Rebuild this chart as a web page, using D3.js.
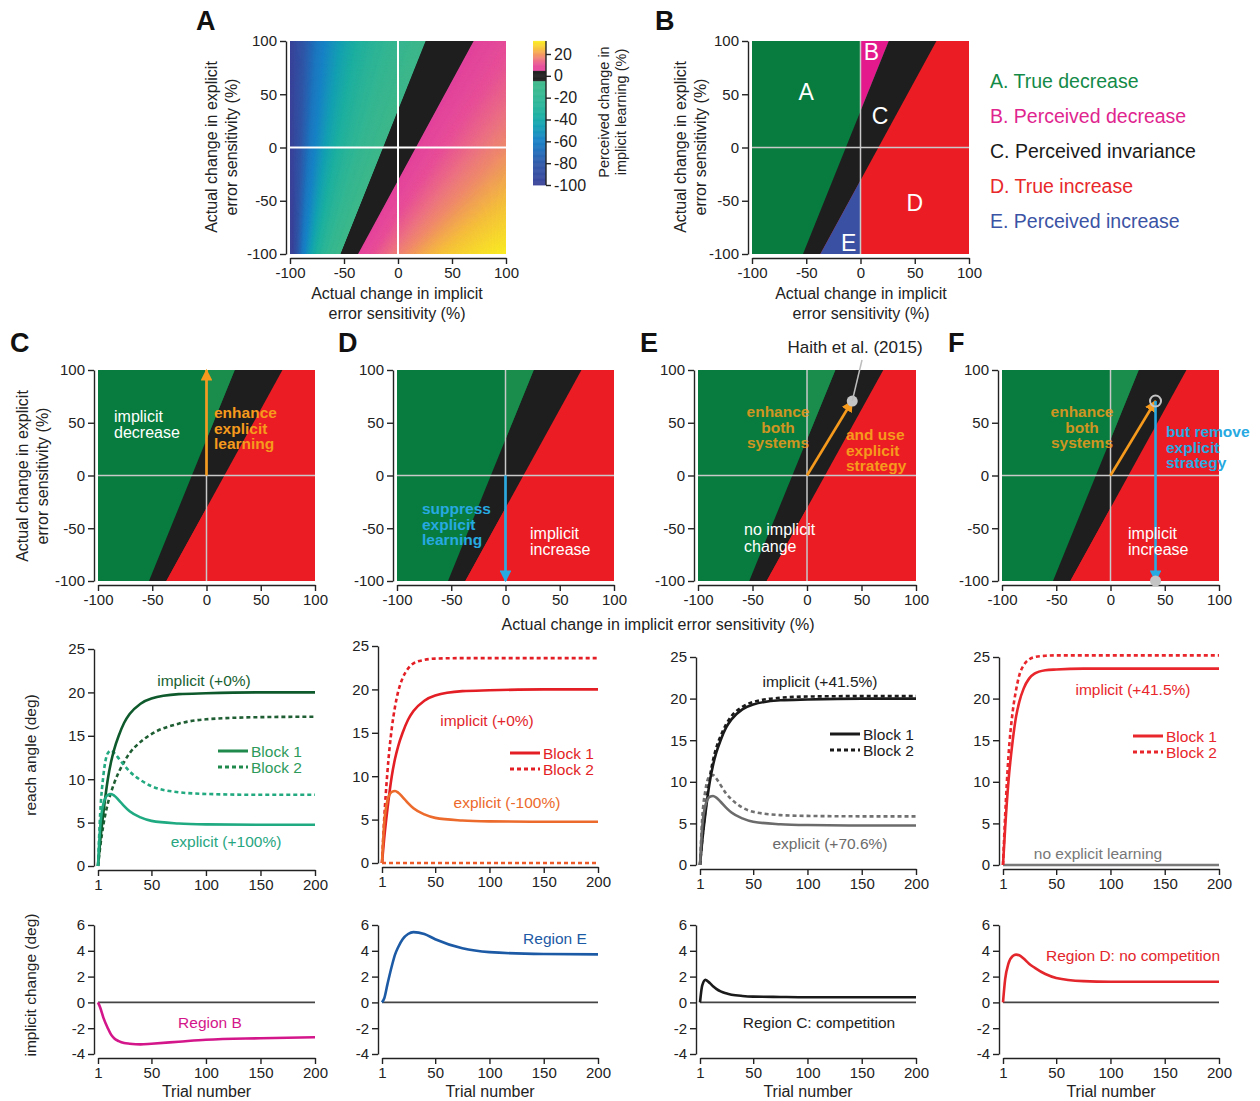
<!DOCTYPE html>
<html>
<head>
<meta charset="utf-8">
<script src="https://cdn.jsdelivr.net/npm/d3@7"></script>
<style>
  body { margin: 0; background: #fff; }
  text { font-family: "Liberation Sans", Arial, sans-serif; }
</style>
</head>
<body>
<svg id="fig" width="1260" height="1101"></svg>
<script>
// ---- data ----
var sensTicks = [-100, -50, 0, 50, 100];
// edges of the black "perceived invariance" band, [implicit %, explicit %]
var bandLeft = [[-53, -100], [26, 100]];
var bandRight = [[-37, -100], [70, 100]];
// panel A: perceived change along the top and right border (contours are rays from the pivot)
var fieldPivot = [-96, -210];
var fieldTopX = [-100, -75, -50, -25, 0, 26, 50, 70, 100];
var fieldTopV = [-100, -64, -43, -26, -14, -5, 0, 5, 9];
var fieldRightY = [100, 50, 0, -50, -100];
var fieldRightV = [9, 13, 18, 25, 32];
var cbarTicks = [20, 0, -20, -40, -60, -80, -100];
var cbarStops = [-100, -80, -68, -58, -45, -35, -25, -15, -5, 5, 10, 15, 20, 25, 32];
var cbarColors = ['#3a4298', '#2e58a8', '#1f6fbb', '#1783c6', '#13a2b2', '#1cb0a0', '#2ab598',
                  '#36b890', '#3eb98a', '#e5429c', '#e84f98', '#ee7580', '#f39a5c', '#f8c13a', '#fcee21'];
var legendLabels = ['A. True decrease', 'B. Perceived decrease', 'C. Perceived invariance',
                    'D. True increase', 'E. Perceived increase'];
var haithPoint = [41.5, 70.6];

var trials = [1, 3, 6, 10, 13, 16, 20, 25, 30, 40, 50, 75, 100, 150, 200];
var trialTicks = [1, 50, 100, 150, 200];
var reachTicks = [0, 5, 10, 15, 20, 25];
var changeTicks = [-4, -2, 0, 2, 4, 6];

var implicitBase   = [0, 2.8, 6.2, 10, 12, 13.5, 15, 16.5, 17.5, 18.7, 19.3, 19.8, 19.9, 20, 20];
var explicitBase   = [0, 4.5, 7.2, 8.2, 8.3, 8.1, 7.6, 6.9, 6.3, 5.6, 5.2, 4.9, 4.8, 4.75, 4.75];
var cImplicit2     = [0, 2.2, 4.8, 7.2, 8.5, 9.6, 10.8, 12, 13, 14.3, 15.2, 16.4, 16.9, 17.15, 17.2];
var cExplicit2     = [0, 6, 10.5, 13, 13.3, 13, 12.4, 11.6, 10.9, 9.9, 9.2, 8.5, 8.3, 8.2, 8.2];
var dImplicit2     = [0, 5, 10.5, 15.5, 18, 19.8, 21.3, 22.4, 23, 23.4, 23.55, 23.6, 23.6, 23.6, 23.6];
var noExplicit     = [0, 0, 0, 0, 0, 0, 0, 0, 0, 0, 0, 0, 0, 0, 0];
var eImplicit2     = [0, 3, 6.6, 10.5, 12.6, 14.1, 15.5, 16.9, 17.9, 19, 19.6, 20.1, 20.25, 20.3, 20.3];
var eExplicit2     = [0, 5.5, 9, 10.7, 10.8, 10.4, 9.6, 8.6, 7.9, 6.9, 6.4, 6.0, 5.9, 5.85, 5.85];
var fImplicit1     = [0, 4.5, 10, 15, 17.8, 19.6, 21.2, 22.4, 23, 23.4, 23.5, 23.6, 23.6, 23.6, 23.6];
var fImplicit2     = [0, 6, 13, 18.5, 21, 22.8, 24, 24.7, 25, 25.15, 25.2, 25.2, 25.2, 25.2, 25.2];

var regionB = [0, -0.4, -1.2, -2.0, -2.5, -2.8, -3.0, -3.15, -3.2, -3.25, -3.2, -3.05, -2.9, -2.78, -2.7];
var regionE = [0, 0.3, 1.4, 2.8, 3.7, 4.3, 4.9, 5.3, 5.45, 5.3, 4.9, 4.2, 3.9, 3.75, 3.72];
var regionC = [0, 1.3, 1.75, 1.5, 1.25, 1.05, 0.85, 0.7, 0.6, 0.5, 0.45, 0.42, 0.4, 0.4, 0.4];
var regionD = [0, 1.8, 3.0, 3.6, 3.7, 3.65, 3.4, 3.0, 2.7, 2.2, 1.9, 1.65, 1.6, 1.6, 1.6];

// ---- drawing ----
var svg = d3.select('#fig');
var GREEN = '#077c3e', GREEN2 = '#1a8c4b', RED = '#ec1c24', BLACK = '#1e1e1e';
var ORANGE = '#f59a1c', BLUE = '#27a9e1';

var defs = svg.append('defs');
function marker(id, color) {
  defs.append('marker').attr('id', id).attr('viewBox', '0 0 10 10')
    .attr('refX', 9).attr('refY', 5).attr('markerWidth', 4.5).attr('markerHeight', 4.5)
    .attr('orient', 'auto-start-reverse')
    .append('path').attr('d', 'M0,0L10,5L0,10z').attr('fill', color);
}
marker('arrOrange', ORANGE);
marker('arrBlue', BLUE);

function fmt(d) { return String(d); }

function styleAxis(a) {
  a.selectAll('path, line').attr('stroke', '#222').attr('stroke-width', 1.4);
  a.selectAll('text').attr('font-size', 15).attr('fill', '#222')
    .attr('font-family', '"Liberation Sans", Arial, sans-serif');
}

function letter(t, x, y) {
  svg.append('text').attr('x', x).attr('y', y).attr('font-size', 27)
    .attr('font-weight', 'bold').attr('fill', '#111').text(t);
}

function multiText(g, lines, x, y, dy, opt) {
  var t = g.append('text').attr('x', x).attr('y', y)
    .attr('font-size', opt.size || 15.5).attr('fill', opt.color)
    .attr('font-weight', opt.bold ? 'bold' : 'normal')
    .attr('text-anchor', opt.anchor || 'start');
  if (opt.opacity) t.attr('fill-opacity', opt.opacity);
  lines.forEach(function (l, i) {
    t.append('tspan').attr('x', x).attr('dy', i === 0 ? 0 : dy).text(l);
  });
  return t;
}

function yAtX(line, xv) {
  var p = line[0], q = line[1];
  return p[1] + (q[1] - p[1]) * (xv - p[0]) / (q[0] - p[0]);
}

var clipN = 0;
function heatPanel(x0, x1, yTop, yBot) {
  var x = d3.scaleLinear([-100, 100], [x0, x1]);
  var y = d3.scaleLinear([-100, 100], [yBot, yTop]);
  var g = svg.append('g');
  var id = 'clip' + (clipN++);
  defs.append('clipPath').attr('id', id).append('rect')
    .attr('x', x0).attr('y', yTop).attr('width', x1 - x0).attr('height', yBot - yTop);
  var body = g.append('g').attr('clip-path', 'url(#' + id + ')');
  var ax = g.append('g').attr('transform', 'translate(0,' + (yBot + 4) + ')')
    .call(d3.axisBottom(x).tickValues(sensTicks).tickFormat(fmt).tickSize(6).tickSizeOuter(0));
  var ay = g.append('g').attr('transform', 'translate(' + (x0 - 4) + ',0)')
    .call(d3.axisLeft(y).tickValues(sensTicks).tickFormat(fmt).tickSize(6).tickSizeOuter(0));
  styleAxis(ax); styleAxis(ay);
  return { x: x, y: y, g: g, body: body };
}

function poly(p, pts, fill) {
  var path = d3.line().x(function (d) { return p.x(d[0]); }).y(function (d) { return p.y(d[1]); });
  p.body.append('path').attr('d', path(pts) + 'Z').attr('fill', fill);
}

function regionPanel(p, bColor, eColor) {
  p.body.append('rect').attr('x', p.x(-100)).attr('y', p.y(100))
    .attr('width', p.x(100) - p.x(-100)).attr('height', p.y(-100) - p.y(100)).attr('fill', GREEN);
  poly(p, [bandLeft[0], bandLeft[1], [100, 100], [100, -100]], BLACK);
  poly(p, [bandRight[0], bandRight[1], [100, 100], [100, -100]], RED);
  poly(p, [[0, yAtX(bandLeft, 0)], [0, 100], [bandLeft[1][0], 100]], bColor);
  poly(p, [[bandRight[0][0], -100], [0, -100], [0, yAtX(bandRight, 0)]], eColor);
}

function crossHair(p, color, w) {
  p.body.append('line').attr('x1', p.x(0)).attr('x2', p.x(0)).attr('y1', p.y(-100)).attr('y2', p.y(100))
    .attr('stroke', color).attr('stroke-width', w);
  p.body.append('line').attr('y1', p.y(0)).attr('y2', p.y(0)).attr('x1', p.x(-100)).attr('x2', p.x(100))
    .attr('stroke', color).attr('stroke-width', w);
}

function sensTitles(cx, yBase, xLeft, cy) {
  if (yBase) multiText(svg, ['Actual change in implicit', 'error sensitivity (%)'], cx, yBase, 20,
    { size: 16, color: '#222', anchor: 'middle' });
  if (xLeft) {
    var t = multiText(svg, ['Actual change in explicit', 'error sensitivity (%)'], 0, 0, 20,
      { size: 16, color: '#222', anchor: 'middle' });
    t.attr('transform', 'translate(' + xLeft + ',' + cy + ') rotate(-90)');
  }
}

// ---------- Panel A ----------
var colorScale = d3.scaleLinear(cbarStops, cbarColors).clamp(true);
function fieldColor(v) { return Math.abs(v) < 5 ? BLACK : colorScale(v); }
var pA = heatPanel(290, 506, 41, 254);
var topVal = d3.scaleLinear(fieldTopX, fieldTopV);
var rightVal = d3.scaleLinear(fieldRightY, fieldRightV);
function perim(s) { return s <= 200 ? [-100 + s, 100] : [100, 100 - (s - 200)]; }
function perimVal(s) { return s <= 200 ? topVal(-100 + s) : rightVal(100 - (s - 200)); }
pA.body.append('rect').attr('x', 290).attr('y', 41).attr('width', 216).attr('height', 213)
  .attr('fill', cbarColors[0]);
d3.range(0, 400, 1).forEach(function (s) {
  var a = perim(s), b = perim(s + 1), c = fieldColor(perimVal(s + 0.5));
  var pts = [fieldPivot, a, b].map(function (d) { return [pA.x(d[0]), pA.y(d[1])]; });
  pA.body.append('path').attr('d', d3.line()(pts) + 'Z').attr('fill', c)
    .attr('stroke', c).attr('stroke-width', 0.8);
});
poly(pA, [bandLeft[0], bandLeft[1], bandRight[1], bandRight[0]], BLACK);
crossHair(pA, '#ffffff', 2);
sensTitles(397, 299, 217, 147);
letter('A', 196, 30);

// colorbar
var cbY = d3.scaleLinear([-100, 20], [185, 54]);
var cbVals = d3.range(-100, 32, 0.5);
svg.append('g').selectAll('rect').data(cbVals).enter().append('rect')
  .attr('x', 533).attr('width', 13)
  .attr('y', function (d) { return cbY(d + 0.5); })
  .attr('height', function (d) { return cbY(d) - cbY(d + 0.5) + 0.4; })
  .attr('fill', fieldColor);
var cbAx = svg.append('g').attr('transform', 'translate(546,0)')
  .call(d3.axisRight(cbY).tickValues(cbarTicks).tickFormat(fmt).tickSize(5).tickSizeOuter(0));
cbAx.select('.domain').attr('d', 'M0,' + cbY(32) + 'V' + cbY(-100));
styleAxis(cbAx);
cbAx.selectAll('text').attr('font-size', 16);
var cbT = multiText(svg, ['Perceived change in', 'implicit learning (%)'], 0, 0, 17,
  { size: 14.5, color: '#222', anchor: 'middle' });
cbT.attr('transform', 'translate(609,112) rotate(-90)');

// ---------- Panel B ----------
var pB = heatPanel(752, 969, 41, 254);
regionPanel(pB, '#e3198c', '#3a51a3');
crossHair(pB, '#c9c9c9', 1.5);
sensTitles(861, 299, 686, 147);
letter('B', 655, 30);
[['A', -50, 52], ['B', 10, 90], ['C', 18, 30], ['D', 50, -52], ['E', -11, -90]].forEach(function (d) {
  pB.g.append('text').attr('x', pB.x(d[1])).attr('y', pB.y(d[2]) + 8).attr('text-anchor', 'middle')
    .attr('font-size', 23).attr('fill', '#fff').text(d[0]);
});
var legColors = ['#138a47', '#e0258f', '#1a1a1a', '#e8282b', '#3b53a4'];
legendLabels.forEach(function (l, i) {
  svg.append('text').attr('x', 990).attr('y', 88 + i * 35).attr('font-size', 19.5)
    .attr('fill', legColors[i]).text(l);
});

// ---------- Row 2: panels C–F maps ----------
var mapX = [[98, 315], [397, 614], [698, 916], [1002, 1219]];
var maps = mapX.map(function (r) {
  var p = heatPanel(r[0], r[1], 370, 581);
  regionPanel(p, GREEN2, RED);
  crossHair(p, '#c9c9c9', 1.5);
  return p;
});
letter('C', 10, 352); letter('D', 338, 352); letter('E', 640, 352); letter('F', 948, 352);
sensTitles(null, null, 28, 476);
svg.append('text').attr('x', 658).attr('y', 630).attr('text-anchor', 'middle').attr('font-size', 16)
  .attr('fill', '#222').text('Actual change in implicit error sensitivity (%)');

function arrow(p, from, to, color, id) {
  p.g.append('line').attr('x1', p.x(from[0])).attr('y1', p.y(from[1]))
    .attr('x2', p.x(to[0])).attr('y2', p.y(to[1]))
    .attr('stroke', color).attr('stroke-width', 2.6).attr('marker-end', 'url(#' + id + ')');
}
var WHITE_TXT = { size: 16, color: '#fff' };
// C
arrow(maps[0], [0, 0], [0, 100], ORANGE, 'arrOrange');
multiText(svg, ['enhance', 'explicit', 'learning'], 214, 418, 15.5, { bold: true, color: ORANGE });
multiText(svg, ['implicit', 'decrease'], 114, 422, 15.5, WHITE_TXT);
// D
arrow(maps[1], [0, 0], [0, -100], BLUE, 'arrBlue');
multiText(svg, ['suppress', 'explicit', 'learning'], 422, 514, 15.5, { bold: true, color: BLUE });
multiText(svg, ['implicit', 'increase'], 530, 539, 15.5, WHITE_TXT);
// E
arrow(maps[2], [0, 0], haithPoint, ORANGE, 'arrOrange');
multiText(svg, ['enhance', 'both', 'systems'], 778, 417, 15.5, { bold: true, color: ORANGE, anchor: 'middle', opacity: 0.85 });
multiText(svg, ['and use', 'explicit', 'strategy'], 846, 440, 15.5, { bold: true, color: ORANGE });
multiText(svg, ['no implicit', 'change'], 744, 535, 16.5, WHITE_TXT);
svg.append('line').attr('x1', maps[2].x(haithPoint[0])).attr('y1', maps[2].y(haithPoint[1]))
  .attr('x2', 862).attr('y2', 360).attr('stroke', '#bdbdbd').attr('stroke-width', 1.5);
maps[2].g.append('circle').attr('cx', maps[2].x(haithPoint[0])).attr('cy', maps[2].y(haithPoint[1]))
  .attr('r', 5.5).attr('fill', '#c4c4c4');
svg.append('text').attr('x', 855).attr('y', 353).attr('text-anchor', 'middle').attr('font-size', 17)
  .attr('fill', '#222').text('Haith et al. (2015)');
// F
arrow(maps[3], [0, 0], haithPoint, ORANGE, 'arrOrange');
arrow(maps[3], haithPoint, [haithPoint[0], -100], BLUE, 'arrBlue');
multiText(svg, ['enhance', 'both', 'systems'], 1082, 417, 15.5, { bold: true, color: ORANGE, anchor: 'middle', opacity: 0.85 });
multiText(svg, ['but remove', 'explicit', 'strategy'], 1166, 437, 15.5, { bold: true, color: BLUE });
multiText(svg, ['implicit', 'increase'], 1128, 539, 15.5, WHITE_TXT);
maps[3].g.append('circle').attr('cx', maps[3].x(haithPoint[0])).attr('cy', maps[3].y(haithPoint[1]))
  .attr('r', 5.5).attr('fill', 'none').attr('stroke', '#c4c4c4').attr('stroke-width', 2);
maps[3].g.append('circle').attr('cx', maps[3].x(haithPoint[0])).attr('cy', maps[3].y(-100))
  .attr('r', 5.5).attr('fill', '#c4c4c4');

// ---------- Rows 3 and 4: time courses ----------
function timePanel(x0, x1, yTopPx, yBotPx, dom, ticks) {
  var x = d3.scaleLinear([1, 200], [x0, x1]);
  var y = d3.scaleLinear(dom, [yBotPx, yTopPx]);
  var g = svg.append('g');
  var ax = g.append('g').attr('transform', 'translate(0,' + (yBotPx + 4) + ')')
    .call(d3.axisBottom(x).tickValues(trialTicks).tickFormat(fmt).tickSize(6).tickSizeOuter(0));
  var ay = g.append('g').attr('transform', 'translate(' + (x0 - 4) + ',0)')
    .call(d3.axisLeft(y).tickValues(ticks).tickFormat(fmt).tickSize(6).tickSizeOuter(0));
  styleAxis(ax); styleAxis(ay);
  return { x: x, y: y, g: g };
}
function curve(p, vals, color, dashed, w) {
  var line = d3.line().curve(d3.curveMonotoneX)
    .x(function (d, i) { return p.x(trials[i]); }).y(function (d) { return p.y(d); });
  var path = p.g.append('path').attr('d', line(vals)).attr('fill', 'none')
    .attr('stroke', color).attr('stroke-width', w || 2.6);
  if (dashed) path.attr('stroke-dasharray', '4,3');
}
function legend(x, y, color, textColor) {
  var g = svg.append('g');
  g.append('line').attr('x1', x).attr('x2', x + 30).attr('y1', y).attr('y2', y)
    .attr('stroke', color).attr('stroke-width', 3);
  g.append('line').attr('x1', x).attr('x2', x + 30).attr('y1', y + 16).attr('y2', y + 16)
    .attr('stroke', color).attr('stroke-width', 3).attr('stroke-dasharray', '4,3');
  g.append('text').attr('x', x + 33).attr('y', y + 5.5).attr('font-size', 15.5).attr('fill', textColor).text('Block 1');
  g.append('text').attr('x', x + 33).attr('y', y + 21.5).attr('font-size', 15.5).attr('fill', textColor).text('Block 2');
}
function label(t, x, y, color, anchor) {
  svg.append('text').attr('x', x).attr('y', y).attr('font-size', 15.5).attr('fill', color)
    .attr('text-anchor', anchor || 'middle').text(t);
}

var rC = timePanel(98, 315, 649, 866, [0, 25], reachTicks);
curve(rC, cImplicit2, '#1f5e33', true);
curve(rC, cExplicit2, '#22a97f', true);
curve(rC, implicitBase, '#0f5a2c', false);
curve(rC, explicitBase, '#1faa82', false);
legend(218, 751, '#1f8a4c', '#2d9a5a');
label('implicit (+0%)', 204, 686, '#185f31');
label('explicit (+100%)', 226, 847, '#27a67f');

var rD = timePanel(382, 598, 646, 863, [0, 25], reachTicks);
curve(rD, dImplicit2, '#e31e24', true);
curve(rD, noExplicit, '#ee5a28', true);
curve(rD, implicitBase, '#e31e24', false);
curve(rD, explicitBase, '#ec6a2c', false);
legend(510, 753, '#e31e24', '#e31e24');
label('implicit (+0%)', 487, 726, '#e2262b');
label('explicit (-100%)', 507, 808, '#ec6a2c');

var rE = timePanel(700, 916, 657, 865, [0, 25], reachTicks);
curve(rE, eImplicit2, '#1a1a1a', true);
curve(rE, eExplicit2, '#707070', true);
curve(rE, implicitBase, '#1a1a1a', false);
curve(rE, explicitBase, '#6b6b6b', false);
legend(830, 734, '#1a1a1a', '#1a1a1a');
label('implicit (+41.5%)', 820, 687, '#222');
label('explicit (+70.6%)', 830, 849, '#6b6b6b');

var rF = timePanel(1003, 1219, 657, 865, [0, 25], reachTicks);
curve(rF, noExplicit, '#7a7a7a', false);
curve(rF, fImplicit2, '#e8262b', true);
curve(rF, fImplicit1, '#e8262b', false);
legend(1133, 736, '#e8262b', '#e8262b');
label('implicit (+41.5%)', 1133, 695, '#e8262b');
label('no explicit learning', 1098, 859, '#777');

var zC = timePanel(98, 315, 925, 1054, [-4, 6], changeTicks);
var zD = timePanel(382, 598, 925, 1054, [-4, 6], changeTicks);
var zE = timePanel(700, 916, 925, 1054, [-4, 6], changeTicks);
var zF = timePanel(1003, 1219, 925, 1054, [-4, 6], changeTicks);
[zC, zD, zE, zF].forEach(function (p) {
  p.g.append('line').attr('x1', p.x(1)).attr('x2', p.x(200)).attr('y1', p.y(0)).attr('y2', p.y(0))
    .attr('stroke', '#444').attr('stroke-width', 1.6);
  svg.append('text').attr('x', (p.x(1) + p.x(200)) / 2).attr('y', 1097).attr('text-anchor', 'middle')
    .attr('font-size', 16).attr('fill', '#222').text('Trial number');
});
curve(zC, regionB, '#d4168b', false);
curve(zD, regionE, '#1c5aa5', false);
curve(zE, regionC, '#1a1a1a', false);
curve(zF, regionD, '#e3262b', false);
label('Region B', 210, 1028, '#d4168b');
label('Region E', 555, 944, '#1c5aa5');
label('Region C: competition', 819, 1028, '#222');
label('Region D: no competition', 1133, 961, '#e3262b');

svg.append('text').attr('font-size', 15.5).attr('fill', '#222').attr('text-anchor', 'middle')
  .attr('transform', 'translate(36,755) rotate(-90)').text('reach angle (deg)');
svg.append('text').attr('font-size', 15.5).attr('fill', '#222').attr('text-anchor', 'middle')
  .attr('transform', 'translate(36,985) rotate(-90)').text('implicit change (deg)');
</script>
</body>
</html>
